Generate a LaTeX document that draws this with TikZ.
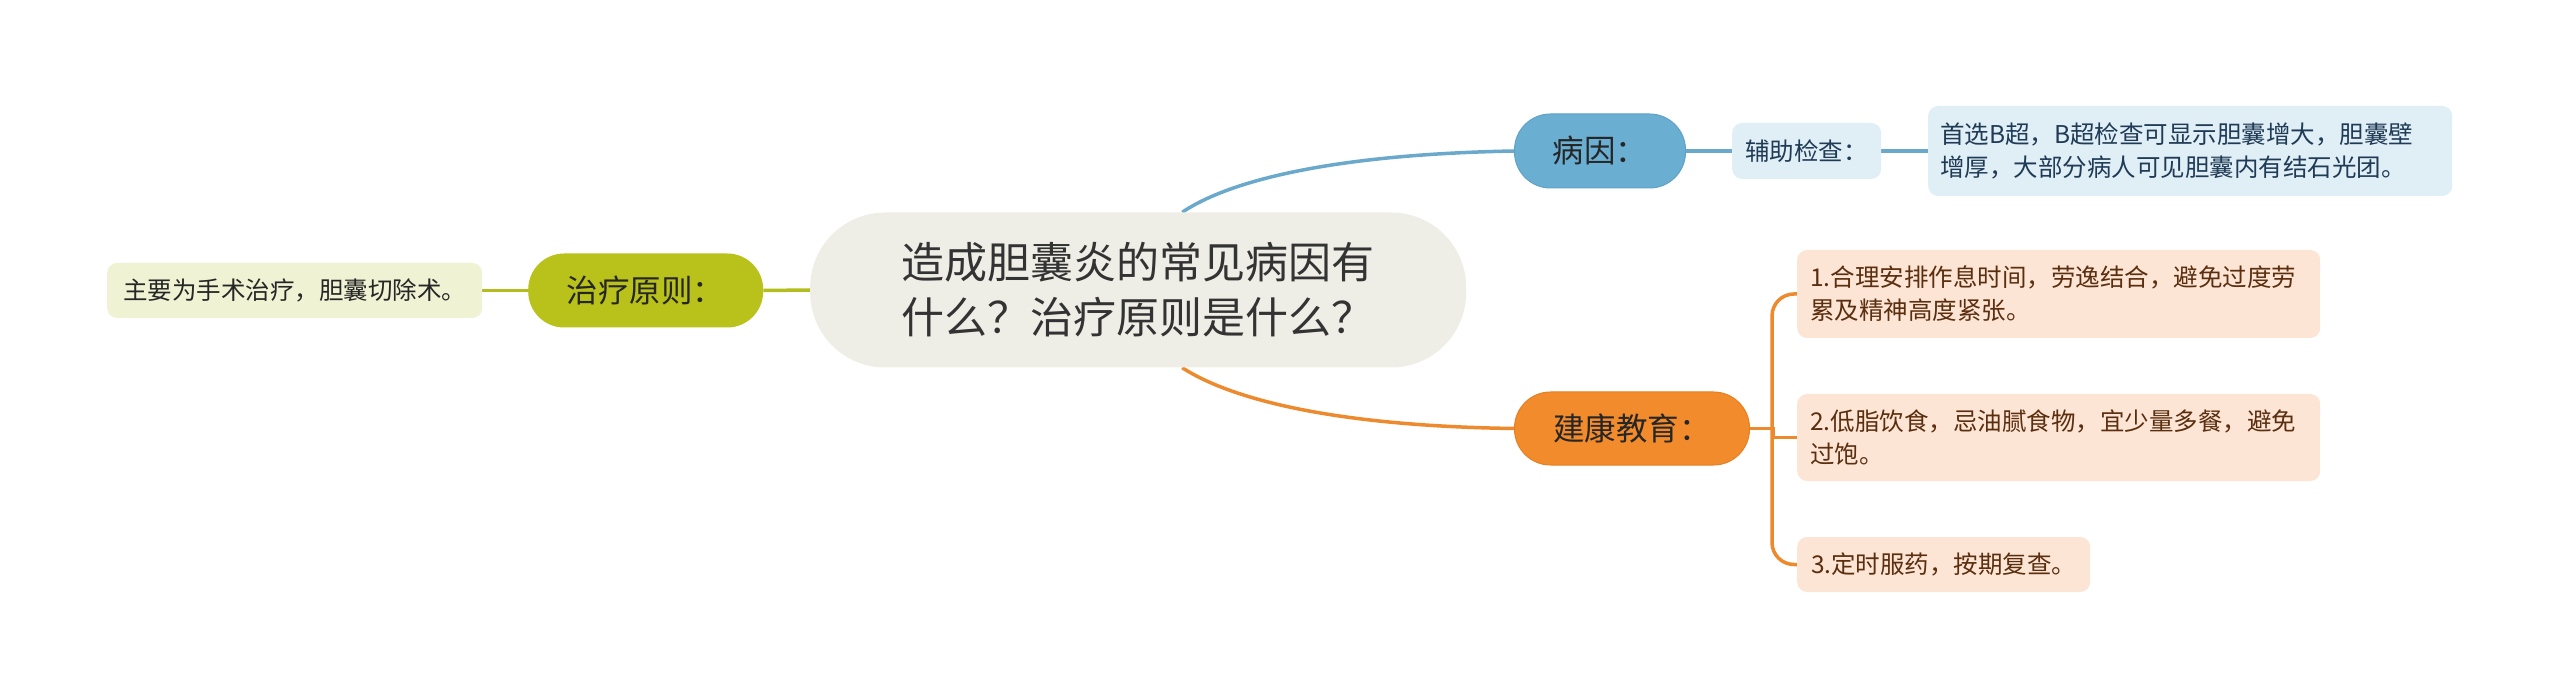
\documentclass[tikz,border=0pt]{standalone}
\usepackage{fontspec}
\setmainfont{Noto Sans CJK SC}
\definecolor{cfill}{HTML}{EFEEE6}
\definecolor{ctext}{HTML}{333333}
\definecolor{olivec}{HTML}{B9C11B}
\definecolor{oliveleaf}{HTML}{EFF2D3}
\definecolor{oliveline}{HTML}{B4BD1E}
\definecolor{bluec}{HTML}{6AAED2}
\definecolor{blueborder}{HTML}{5EA2C6}
\definecolor{blueline}{HTML}{6AA9CB}
\definecolor{blueleaf}{HTML}{E0EEF6}
\definecolor{bluetext}{HTML}{1F3B55}
\definecolor{orangec}{HTML}{F28B2C}
\definecolor{orangeborder}{HTML}{E67F22}
\definecolor{orangeline}{HTML}{EE8A2E}
\definecolor{peach}{HTML}{FCE5D5}
\definecolor{peachtext}{HTML}{5A2E0E}
\definecolor{maintext}{HTML}{262626}
\pgfdeclarelayer{bg}
\pgfsetlayers{bg,main}
\begin{document}
\begin{tikzpicture}[x=1pt,y=-1pt,
  centernode/.style={fill=cfill, rounded corners=75pt, minimum width=656pt, minimum height=155pt,
    inner sep=0pt, anchor=west, align=left, text=ctext, font=\fontsize{43}{55}\selectfont},
  mainnode/.style={rounded corners=36pt, minimum height=74pt, inner sep=0pt, anchor=west,
    text=maintext, font=\fontsize{31.5}{38}\selectfont},
  leafnode/.style={rounded corners=10pt, inner ysep=0pt, inner xsep=13pt, anchor=west,
    align=left, font=\fontsize{24.5}{33}\selectfont},
  conn/.style={line width=3.5pt},
]
\useasboundingbox (0,0) rectangle (2560,700);

% nodes
\node[centernode] (c) at (810,290) {造成胆囊炎的常见病因有\\什么？治疗原则是什么？};

\node[mainnode, fill=olivec, minimum width=235pt] (zl) at (528,290.5) {治疗原则：};
\node[leafnode, fill=oliveleaf, text=maintext, minimum width=375pt, minimum height=55pt, align=center] (zleaf) at (107,290.5) {主要为手术治疗，胆囊切除术。};

\node[mainnode, fill=bluec, draw=blueborder, line width=1pt, minimum width=171pt] (by) at (1514,151) {病因：};
\node[leafnode, fill=blueleaf, text=bluetext, minimum width=149pt, minimum height=56pt] (fz) at (1732,151) {辅助检查：};
\node[leafnode, fill=blueleaf, text=bluetext, text width=500pt, inner xsep=12pt, minimum height=90pt] (dt) at (1928,151) {首选B超，B超检查可显示胆囊增大，胆囊壁\\增厚，大部分病人可见胆囊内有结石光团。};

\node[mainnode, fill=orangec, draw=orangeborder, line width=1pt, minimum width=235pt, minimum height=73pt] (jk) at (1514,428.5) {建康教育：};
\node[leafnode, fill=peach, text=peachtext, text width=497pt, minimum height=88pt] (l1) at (1797,294) {1.合理安排作息时间，劳逸结合，避免过度劳\\累及精神高度紧张。};
\node[leafnode, fill=peach, text=peachtext, text width=497pt, minimum height=87pt] (l2) at (1797,437.5) {2.低脂饮食，忌油腻食物，宜少量多餐，避免\\过饱。};
\node[leafnode, fill=peach, text=peachtext, minimum width=293pt, minimum height=55pt] (l3) at (1797,564.5) {3.定时服药，按期复查。};

\coordinate (cb) at ([xshift=44pt]c.north);
\coordinate (co) at ([xshift=44pt]c.south);

\begin{pgfonlayer}{bg}
  \fill[white] (0,0) rectangle (2560,700);
  \draw[conn, blueline] (cb) .. controls (1215,190) and (1300,155) .. (by.west);
  \draw[conn, orangeline] (co) .. controls (1215,389) and (1300,425.5) .. (jk.west);
  \draw[conn, oliveline] (c.west) -- (zl.east);
  \draw[conn, oliveline] (zl.west) -- (zleaf.east);
  \draw[conn, blueline] (by.east) -- (fz.west);
  \draw[conn, blueline] (fz.east) -- (dt.west);
  \draw[conn, orangeline, rounded corners=22pt] (l1.west) -- ++(-25,0) |- (l3.west);
  \draw[conn, orangeline] (jk.east) -- ++(23,0) |- (l2.west);
\end{pgfonlayer}
\end{tikzpicture}
\end{document}
